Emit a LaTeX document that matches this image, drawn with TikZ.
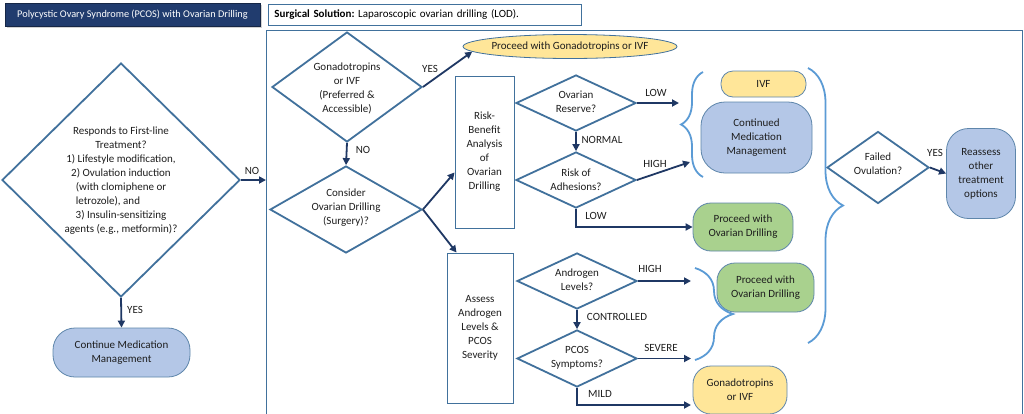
\documentclass[tikz,border=0pt]{standalone}
\usepackage{fontspec}
\setmainfont{Carlito}
\usetikzlibrary{shapes.geometric,arrows.meta,decorations.pathreplacing,shadows}
\definecolor{navy}{RGB}{31,56,100}
\definecolor{steel}{RGB}{65,113,156}
\definecolor{bluefill}{RGB}{180,199,231}
\definecolor{greenfill}{RGB}{169,209,142}
\definecolor{yellowfill}{RGB}{255,230,153}
\definecolor{bracecol}{RGB}{91,155,213}
\definecolor{txtcol}{RGB}{30,30,30}
\definecolor{titlefill}{RGB}{33,60,110}
\tikzset{
 base/.style={font=\fontsize{11}{14}\selectfont, text=txtcol, align=center},
 dia/.style={diamond, draw=steel, line width=1.8pt, fill=white, inner sep=0pt},
 dtext/.style={base, inner sep=0pt},
 term/.style={base, rectangle, draw=steel!85, line width=0.8pt, inner sep=0pt},
 sbox/.style={base, rectangle, draw=steel, line width=0.9pt, fill=white, inner sep=0pt},
 arr/.style={draw=navy, line width=1.8pt, -{Triangle[length=7pt,width=7pt]}},
 lab/.style={font=\fontsize{11}{13}\selectfont, text=txtcol, inner sep=0pt},
 brc/.style={draw=bracecol, line width=1.8pt, decorate, decoration={brace, amplitude=#1}},
}
\begin{document}
\begin{tikzpicture}[x=1pt,y=-1pt]
\clip (0,0) rectangle (1024,413);
\fill[white] (0,0) rectangle (1024,413);
% frame
\node[draw=steel, line width=0.8pt, minimum width=756pt, minimum height=400pt, anchor=north west, inner sep=0pt] (frame) at (266,30) {};
% title boxes
\node[rectangle, fill=titlefill, draw=navy!70!black, line width=0.8pt, minimum width=255pt, minimum height=23pt, inner sep=0pt,
  drop shadow={opacity=0.35, shadow xshift=1.5pt, shadow yshift=-1.5pt}, text=white, font=\fontsize{10.3}{12}\selectfont] (title) at (132.5,14.5) {Polycystic Ovary Syndrome (PCOS) with Ovarian Drilling};
\node[rectangle, draw=steel, line width=0.8pt, fill=white, text width=301pt, align=left, inner xsep=6pt, inner ysep=0pt, minimum height=21pt, anchor=west, font=\fontsize{11}{12}\selectfont, text=black] (surg) at (268,14.5) {\textbf{Surgical Solution:}~Laparoscopic ovarian drilling (LOD).};
% first-line diamond
\node[dia, minimum width=238pt, minimum height=234pt] (d1) at (121,180) {};
\node[dtext] (d1t) at (121,181) {Responds to First-line\\Treatment?\\1) Lifestyle modification,\\2) Ovulation induction\\(with clomiphene or\\\makebox[0pt][l]{letrozole), and}\hphantom{(with clomiphene or}\\3) Insulin-sensitizing\\agents (e.g., metformin)?};
\node[term, fill=bluefill, minimum width=137pt, minimum height=49pt, rounded corners=22pt] (cont) at (121.5,352.5) {Continue Medication\\Management};
% gonadotropins
\node[dia, minimum width=150pt, minimum height=110pt] (gon) at (347,87) {};
\node[dtext] (gont) at (347,88) {Gonadotropins\\or IVF\\(Preferred \&\\Accessible)};
\node[ellipse, draw=steel, line width=0.8pt, fill=yellowfill, minimum width=214pt, minimum height=24pt, inner sep=0pt] (ell) at (570,46.5) {};
\node[dtext] (ellt) at (570,46.5) {Proceed with Gonadotropins or IVF};
% consider
\node[dia, minimum width=152pt, minimum height=87pt] (con) at (346,209.5) {};
\node[dtext] (cont2) at (346,208) {Consider\\Ovarian Drilling\\(Surgery)?};
% boxes
\node[sbox, minimum width=59pt, minimum height=152pt] (rb) at (484.5,152) {Risk-\\Benefit\\Analysis\\of\\Ovarian\\Drilling};
\node[sbox, minimum width=66pt, minimum height=150pt] (as) at (480,328) {Assess\\Androgen\\Levels \&\\PCOS\\Severity};
% small diamonds
\node[dia, minimum width=120pt, minimum height=56pt] (ovr) at (576,103) {};
\node[dtext] (ovrt) at (576,102) {Ovarian\\Reserve?};
\node[dia, minimum width=120pt, minimum height=56pt] (adh) at (576,180) {};
\node[dtext] (adht) at (576,180) {Risk of\\Adhesions?};
\node[dia, minimum width=120pt, minimum height=56pt] (and) at (577,281) {};
\node[dtext] (andt) at (577,280) {Androgen\\Levels?};
\node[dia, minimum width=120pt, minimum height=57pt] (pcos) at (577,358.5) {};
\node[dtext] (pcost) at (577,358) {PCOS\\Symptoms?};
\node[dia, minimum width=102pt, minimum height=72pt] (fo) at (878,167.5) {};
\node[dtext] (fot) at (878,164) {Failed\\Ovulation?};
% terminals
\node[term, fill=yellowfill, minimum width=85pt, minimum height=26pt, rounded corners=12pt] (ivf) at (763.5,84) {IVF};
\node[term, fill=bluefill, minimum width=111pt, minimum height=71pt, rounded corners=24pt] (cmm) at (756.5,137.5) {Continued\\Medication\\Management};
\node[term, fill=greenfill, minimum width=100pt, minimum height=48pt, rounded corners=18pt] (g1) at (743,227) {Proceed with\\Ovarian Drilling};
\node[term, fill=greenfill, minimum width=97pt, minimum height=49pt, rounded corners=18pt] (g2) at (765.5,287.5) {Proceed with\\Ovarian Drilling};
\node[term, fill=yellowfill, minimum width=94pt, minimum height=48pt, rounded corners=18pt] (gi) at (740,390) {Gonadotropins\\or IVF};
\node[term, fill=bluefill, minimum width=69pt, minimum height=90pt, rounded corners=22pt] (re) at (981,173.5) {Reassess\\other\\treatment\\options};
% free ends
\coordinate (c1) at (679,103);
\coordinate (c2) at (690,162);
\coordinate (c3) at (691,281);
\coordinate (c4) at (691,358.5);
\coordinate (c5) at (691,405);
% arrows
\draw[arr] (d1.east) -- (d1.east -| frame.west);
\draw[arr] (d1.south) -- (cont.north);
\draw[arr] (gon.east) -- (ell.183);
\draw[arr] (gon.south) -- (con.north);
\draw[arr] (con.east) -- ([yshift=56pt]rb.south west);
\draw[arr] (con.east) -- ([xshift=10pt]as.north west);
\draw[arr] (ovr.east) -- (c1);
\draw[arr] (ovr.south) -- (adh.north);
\draw[arr] (adh.east) -- (c2);
\draw[arr] (adh.south) |- (g1.west);
\draw[arr] (and.east) -- (c3);
\draw[arr] (and.south) -- (pcos.north);
\draw[arr] (pcos.east) -- (c4);
\draw[arr] (pcos.south) |- (c5);
\draw[arr] (fo.east) -- (re.west);
% labels
\node[lab] (l1) at (252,171) {NO};
\node[lab] (l2) at (135,310) {YES};
\node[lab] (l3) at (430,69) {YES};
\node[lab] (l4) at (363,150) {NO};
\node[lab] (l5) at (656,93) {LOW};
\node[lab] (l6) at (602,140) {NORMAL};
\node[lab] (l7) at (655,164) {HIGH};
\node[lab] (l8) at (596,216) {LOW};
\node[lab] (l9) at (650,269) {HIGH};
\node[lab] (l10) at (617,317) {CONTROLLED};
\node[lab] (l11) at (661,348) {SEVERE};
\node[lab] (l12) at (600,394) {MILD};
\node[lab] (l13) at (935,153) {YES};
% braces
\draw[brc=22pt] (703,177) -- (703,72);
\draw[brc=35pt] (808,68) -- (808,343);
\draw[brc=38pt] (695,268) -- (695,360);
\end{tikzpicture}
\end{document}
